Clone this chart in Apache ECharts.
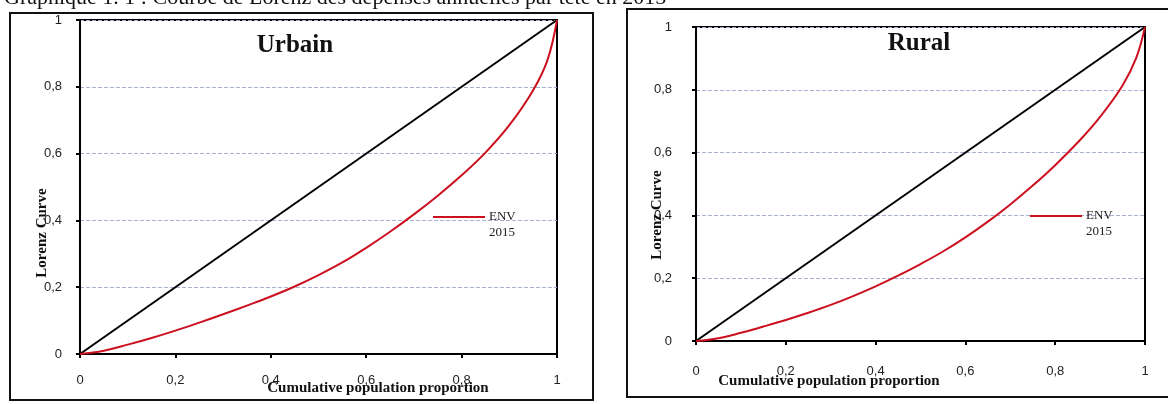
<!DOCTYPE html>
<html>
<head>
<meta charset="utf-8">
<script src="https://cdn.jsdelivr.net/npm/echarts@6/dist/echarts.min.js"></script>
<style>
html,body{margin:0;padding:0;background:#fff;}
#chart{width:1168px;height:404px;}
</style>
</head>
<body>
<div id="chart"></div>
<script>
// Data
const pageTitle = "Graphique 1. 1 : Courbe de Lorenz des dépenses annuelles par tête en 2015";
const panelTitles = ["Urbain", "Rural"];
const popShare = [0, 0.05, 0.1, 0.15, 0.2, 0.25, 0.3, 0.35, 0.4, 0.45, 0.5, 0.55, 0.6, 0.65, 0.7, 0.75, 0.8, 0.85, 0.9, 0.95, 0.98, 1];
const urbainLorenz = [0, 0.01, 0.028, 0.048, 0.07, 0.094, 0.119, 0.145, 0.172, 0.202, 0.236, 0.274, 0.318, 0.366, 0.418, 0.474, 0.535, 0.603, 0.685, 0.79, 0.88, 1];
const ruralLorenz = [0, 0.009, 0.026, 0.046, 0.067, 0.09, 0.115, 0.143, 0.174, 0.208, 0.245, 0.285, 0.33, 0.38, 0.435, 0.495, 0.56, 0.632, 0.714, 0.814, 0.9, 1];
const equalityX = [0, 1];
const equalityY = [0, 1];
const legendLabel = ["ENV", "2015"];
const xAxisTitle = "Cumulative population proportion";
const yAxisTitle = "Lorenz Curve";

const pairs = (xs, ys) => xs.map((x, i) => [x, ys[i]]);
const fmt = v => (v === 0 || v === 1) ? String(v) : String(v).replace('.', ',');

const grids = [
  {left: 80, top: 20, width: 477, height: 334},
  {left: 696, top: 27, width: 449, height: 314}
];

function xAx(i, margin) {
  return {
    type: 'value', gridIndex: i, min: 0, max: 1, interval: 0.2,
    axisLine: {show: true, lineStyle: {color: '#000', width: 2}},
    axisTick: {show: true, length: 4, lineStyle: {color: '#000', width: 2}},
    axisLabel: {formatter: fmt, color: '#222', fontFamily: 'Liberation Sans', fontSize: 13, margin: margin},
    splitLine: {show: false}
  };
}
function yAx(i, margin) {
  return {
    type: 'value', gridIndex: i, min: 0, max: 1, interval: 0.2,
    axisLine: {show: true, lineStyle: {color: '#000', width: 2}},
    axisTick: {show: true, length: 4, lineStyle: {color: '#000', width: 2}},
    axisLabel: {formatter: fmt, color: '#222', fontFamily: 'Liberation Sans', fontSize: 13, margin: margin},
    splitLine: {show: true, lineStyle: {color: '#a7b0d4', width: 1, type: [4, 2]}}
  };
}

const redColor = '#cc1020';

const option = {
  animation: false,
  backgroundColor: '#fff',
  grid: grids.map(g => Object.assign({show: true, borderColor: '#000', borderWidth: 2, backgroundColor: 'transparent', containLabel: false}, g)),
  xAxis: [xAx(0, 20), xAx(1, 24)],
  yAxis: [yAx(0, 18), yAx(1, 24)],
  series: [
    {type: 'line', xAxisIndex: 0, yAxisIndex: 0, data: pairs(equalityX, equalityY), showSymbol: false, lineStyle: {color: '#000', width: 2}, z: 3},
    {type: 'line', name: 'ENV 2015', xAxisIndex: 0, yAxisIndex: 0, data: pairs(popShare, urbainLorenz), smooth: 0.4, showSymbol: false, lineStyle: {color: redColor, width: 2}, z: 4},
    {type: 'line', xAxisIndex: 1, yAxisIndex: 1, data: pairs(equalityX, equalityY), showSymbol: false, lineStyle: {color: '#000', width: 2}, z: 3},
    {type: 'line', name: 'ENV 2015', xAxisIndex: 1, yAxisIndex: 1, data: pairs(popShare, ruralLorenz), smooth: 0.4, showSymbol: false, lineStyle: {color: redColor, width: 2}, z: 4}
  ],
  graphic: [
    // page title (cut at top)
    {type: 'text', left: 4, top: -13, style: {text: pageTitle, font: '22px "Liberation Serif"', fill: '#111'}, z: 10},
    // outer frames
    {type: 'rect', shape: {x: 10, y: 13, width: 583, height: 387}, style: {fill: 'none', stroke: '#111', lineWidth: 2}, z: 0},
    {type: 'rect', shape: {x: 627, y: 9, width: 560, height: 388}, style: {fill: 'none', stroke: '#111', lineWidth: 2}, z: 0},
    // panel titles
    {type: 'text', x: 295, y: 46, style: {text: panelTitles[0], font: 'bold 25px "Liberation Serif"', fill: '#111', textAlign: 'center', textVerticalAlign: 'middle'}, z: 10},
    {type: 'text', x: 919, y: 44, style: {text: panelTitles[1], font: 'bold 25px "Liberation Serif"', fill: '#111', textAlign: 'center', textVerticalAlign: 'middle'}, z: 10},
    // legends
    {type: 'line', shape: {x1: 433, y1: 217, x2: 485, y2: 217}, style: {stroke: redColor, lineWidth: 2}, z: 10},
    {type: 'text', x: 489, y: 209, style: {text: legendLabel.join('\n'), font: '13px "Liberation Serif"', fill: '#222', lineHeight: 16}, z: 10},
    {type: 'line', shape: {x1: 1030, y1: 216, x2: 1082, y2: 216}, style: {stroke: redColor, lineWidth: 2}, z: 10},
    {type: 'text', x: 1086, y: 208, style: {text: legendLabel.join('\n'), font: '13px "Liberation Serif"', fill: '#222', lineHeight: 16}, z: 10},
    // axis titles
    {type: 'text', x: 378, y: 388, style: {text: xAxisTitle, font: 'bold 15px "Liberation Serif"', fill: '#111', textAlign: 'center', textVerticalAlign: 'middle'}, z: 10},
    {type: 'text', x: 829, y: 381, style: {text: xAxisTitle, font: 'bold 15px "Liberation Serif"', fill: '#111', textAlign: 'center', textVerticalAlign: 'middle'}, z: 10},
    {type: 'text', x: 42, y: 233, rotation: Math.PI / 2, style: {text: yAxisTitle, font: 'bold 15px "Liberation Serif"', fill: '#111', textAlign: 'center', textVerticalAlign: 'middle'}, z: 10},
    {type: 'text', x: 657, y: 215, rotation: Math.PI / 2, style: {text: yAxisTitle, font: 'bold 15px "Liberation Serif"', fill: '#111', textAlign: 'center', textVerticalAlign: 'middle'}, z: 10}
  ]
};

const chart = echarts.init(document.getElementById('chart'), null, {renderer: 'canvas'});
chart.setOption(option);
</script>
</body>
</html>
